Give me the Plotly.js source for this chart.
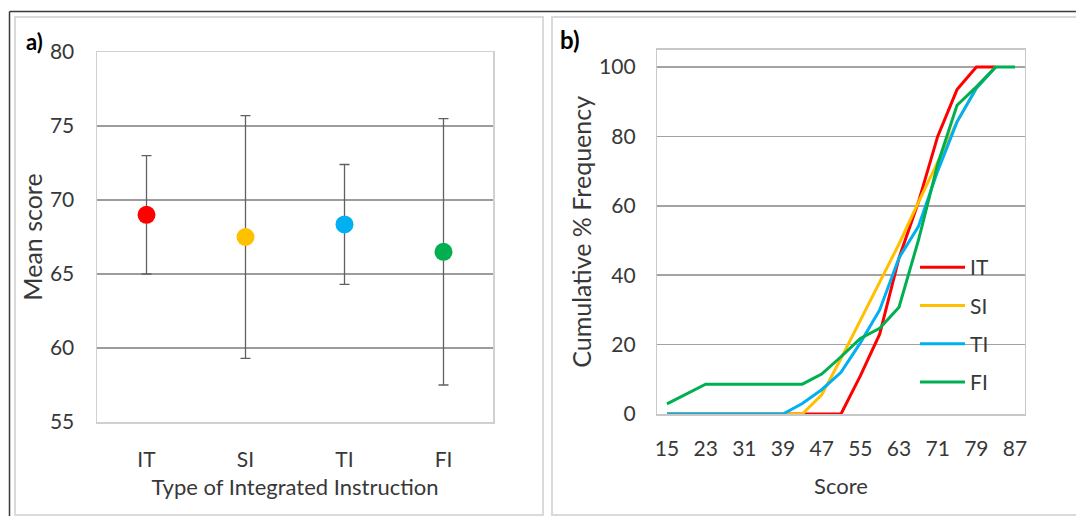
<!DOCTYPE html>
<html>
<head>
<meta charset="utf-8">
<script src="https://cdn.plot.ly/plotly-3.0.1.min.js"></script>
<style>
  html, body { margin: 0; padding: 0; background: #ffffff; }
  #chart { width: 1076px; height: 516px; }
</style>
</head>
<body>
<div id="chart"></div>
<script>
// ---------- Panel a data ----------
const instructionTypes = ['IT', 'SI', 'TI', 'FI'];
const meanScores = [69.0, 67.5, 68.35, 66.5];
const meanErrors = [4.0, 8.2, 4.05, 9.0];
const typeColors = ['#FF0000', '#FFC000', '#00B0F0', '#00B050'];

// ---------- Panel b data ----------
const scoreBins = [15, 19, 23, 27, 31, 35, 39, 43, 47, 51, 55, 59, 63, 67, 71, 75, 79, 83, 87];
const cumIT = [0, 0, 0, 0, 0, 0, 0, 0, 0, 0, 11, 23, 45, 61, 80, 93.5, 100, 100, null];
const cumSI = [0, 0, 0, 0, 0, 0, 0, 0, 5.5, 16, 27, 38, 49, 61, 72.5, 84.2, 93.9, 100, null];
const cumTI = [0, 0, 0, 0, 0, 0, 0, 3, 7, 12, 20.5, 30, 45, 54, 70, 84.2, 93.9, 100, null];
const cumFI = [2.9, 5.7, 8.6, 8.6, 8.6, 8.6, 8.6, 8.6, 11.5, 16.5, 21.8, 24.7, 30.8, 50, 72, 89, 94.3, 100, 100];
const scoreTicks = [15, 23, 31, 39, 47, 55, 63, 71, 79, 87];
const pctTicks = [0, 20, 40, 60, 80, 100];

const W = 1076, H = 516;
const px = v => v / W;
const py = v => 1 - v / H;

const FONT = 'Lato, "Liberation Sans", Arial, sans-serif';
const TXT = '#383838';

const traces = [
  {
    type: 'scatter', mode: 'markers',
    x: instructionTypes, y: meanScores,
    xaxis: 'x', yaxis: 'y',
    marker: { color: typeColors, size: 18 },
    error_y: { type: 'data', array: meanErrors, visible: true, color: '#606060', thickness: 1.3, width: 5 },
    showlegend: false, hoverinfo: 'x+y'
  }
];
const seriesNames = ['IT', 'SI', 'TI', 'FI'];
const seriesData = [cumIT, cumSI, cumTI, cumFI];
seriesNames.forEach((n, i) => {
  traces.push({
    type: 'scatter', mode: 'lines', name: n,
    x: scoreBins, y: seriesData[i],
    xaxis: 'x2', yaxis: 'y2',
    line: { color: typeColors[i], width: 3 },
    legendgroup: n,
    connectgaps: false
  });
});

const layout = {
  width: W, height: H,
  margin: { l: 0, r: 0, t: 0, b: 0 },
  paper_bgcolor: '#ffffff', plot_bgcolor: '#ffffff',
  font: { family: FONT, color: TXT, size: 20 },
  showlegend: true,
  legend: {
    x: px(915), y: py(247), xanchor: 'left', yanchor: 'top',
    bgcolor: 'rgba(0,0,0,0)', borderwidth: 0,
    font: { family: FONT, size: 21, color: TXT },
    traceorder: 'grouped', tracegroupgap: 8, itemwidth: 45
  },
  xaxis: {
    domain: [px(97), px(493)], anchor: 'y',
    type: 'category', range: [-0.5, 3.5],
    showgrid: false, zeroline: false,
    showline: true, mirror: true, linecolor: '#d0d0d0', linewidth: 1.5,
    ticks: 'outside', ticklen: 18, tickcolor: 'rgba(0,0,0,0)',
    tickfont: { size: 21, color: TXT },
    title: { text: 'Type of Integrated Instruction', font: { size: 22, color: TXT }, standoff: 10 },
    automargin: false, fixedrange: true
  },
  yaxis: {
    domain: [py(422), py(52)], anchor: 'x',
    range: [55, 80], tickvals: [55, 60, 65, 70, 75, 80],
    showgrid: true, gridcolor: '#9c9c9c', gridwidth: 1.5, zeroline: false,
    showline: true, mirror: true, linecolor: '#d0d0d0', linewidth: 1.5,
    ticks: 'outside', ticklen: 17, tickcolor: 'rgba(0,0,0,0)',
    tickfont: { size: 21, color: TXT },
    title: { text: 'Mean score', font: { size: 25, color: TXT }, standoff: 0 },
    automargin: false, fixedrange: true
  },
  xaxis2: {
    domain: [px(657.3), px(1024.7)], anchor: 'y2',
    range: [13, 89], tickvals: scoreTicks,
    showgrid: false, zeroline: false,
    showline: true, mirror: true, linecolor: '#c8c8c8', linewidth: 1.5,
    ticks: 'outside', ticklen: 15, tickcolor: 'rgba(0,0,0,0)',
    tickfont: { size: 21, color: TXT },
    title: { text: 'Score', font: { size: 22, color: TXT }, standoff: 20 },
    automargin: false, fixedrange: true
  },
  yaxis2: {
    domain: [py(414), py(49.7)], anchor: 'x2',
    range: [0, 105], tickvals: pctTicks,
    showgrid: true, gridcolor: '#a3a3a3', gridwidth: 1.5, zeroline: false,
    showline: true, mirror: true, linecolor: '#c8c8c8', linewidth: 1.5,
    ticks: 'outside', ticklen: 16, tickcolor: 'rgba(0,0,0,0)',
    tickfont: { size: 21, color: TXT },
    title: { text: 'Cumulative % Frequency', font: { size: 25, color: TXT }, standoff: 0 },
    automargin: false, fixedrange: true
  },
  annotations: [
    { text: '<b>a)</b>', xref: 'paper', yref: 'paper', x: px(24), y: py(26), xanchor: 'left', yanchor: 'top',
      showarrow: false, font: { family: FONT, size: 22, color: '#000000' } },
    { text: '<b>b)</b>', xref: 'paper', yref: 'paper', x: px(558), y: py(23), xanchor: 'left', yanchor: 'top',
      showarrow: false, font: { family: FONT, size: 24, color: '#000000' } }
  ],
  shapes: [
    // outer dark frame
    { type: 'line', xref: 'paper', yref: 'paper', x0: px(9.5), x1: 1, y0: py(11.5), y1: py(11.5), line: { color: '#3a3a3a', width: 1.5 } },
    { type: 'line', xref: 'paper', yref: 'paper', x0: px(9.5), x1: px(9.5), y0: py(11.5), y1: 0, line: { color: '#3a3a3a', width: 1.5 } },
    // panel borders
    { type: 'rect', xref: 'paper', yref: 'paper', x0: px(15), x1: px(543), y0: py(515), y1: py(17), line: { color: '#dadada', width: 2 } },
    { type: 'rect', xref: 'paper', yref: 'paper', x0: px(552), x1: px(1082), y0: py(515), y1: py(17), line: { color: '#dadada', width: 2 } }
  ]
};

Plotly.newPlot('chart', traces, layout, { displayModeBar: false, staticPlot: true });
</script>
</body>
</html>
